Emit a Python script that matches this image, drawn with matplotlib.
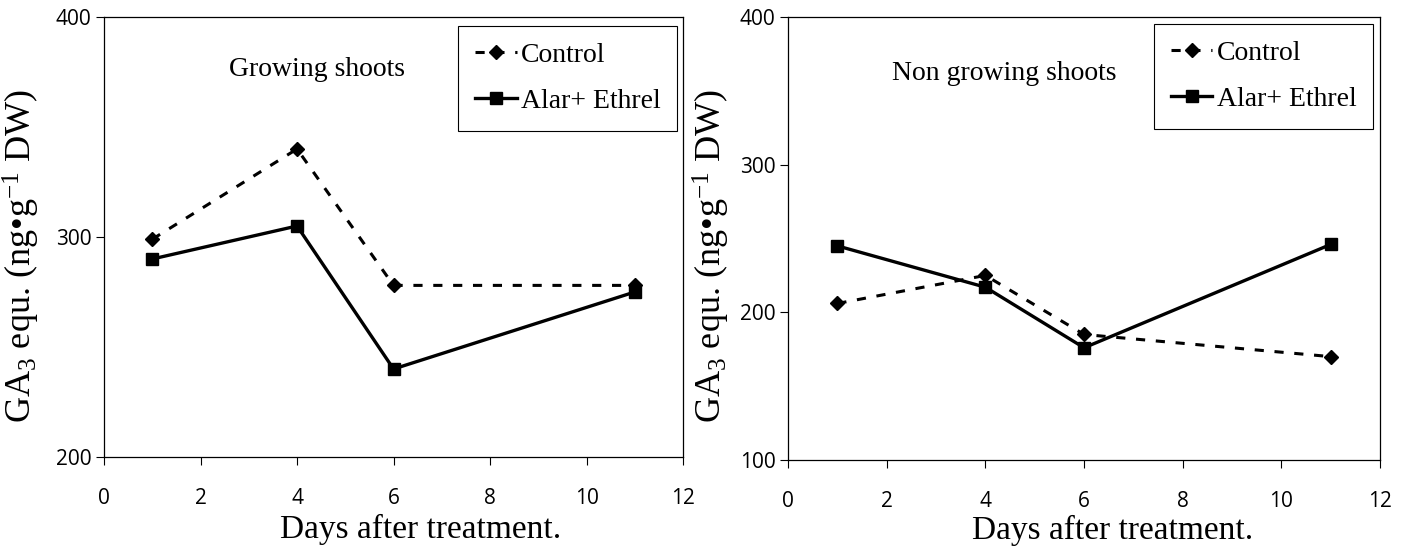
import matplotlib
matplotlib.use("Agg")
import matplotlib.pyplot as plt

plt.rcParams['mathtext.fontset'] = 'custom'
plt.rcParams['mathtext.rm'] = 'Liberation Serif'
plt.rcParams['mathtext.it'] = 'Liberation Serif:italic'

days = [1, 4, 6, 11]

# growing shoots
grow_control = [299, 340, 278, 278]
grow_alar = [290, 305, 240, 275]

# non growing shoots
nongrow_control = [206, 225, 185, 170]
nongrow_alar = [245, 217, 176, 246]

fig = plt.figure(figsize=(14.08, 5.53), dpi=100)
ax1 = fig.add_axes([0.0739, 0.1736, 0.4112, 0.7957])
ax2 = fig.add_axes([0.5597, 0.1682, 0.4205, 0.801])

serif = 'Liberation Serif'
ylab = 'GA$_3$ equ. (ng•g$^{-1}$ DW)'


def draw(ax, ctrl, alar, ylim, yticks, title, tpos, legpos, xlpos, ylpos):
    ax.plot(days, ctrl, color='black', ls=(0, (3, 3.5)), lw=2.2, marker='D',
            markersize=7, label='Control')
    ax.plot(days, alar, color='black', ls='-', lw=2.4, marker='s',
            markersize=9, label='Alar+ Ethrel')
    ax.set_xlim(0, 12)
    ax.set_ylim(*ylim)
    ax.set_xticks(range(0, 13, 2))
    ax.set_yticks(yticks)
    ax.tick_params(direction='out', length=6, labelsize=15)
    ax.tick_params(axis='x', pad=16)
    ax.tick_params(axis='y', pad=3)
    for lab in ax.get_xticklabels() + ax.get_yticklabels():
        lab.set_fontfamily('Open Sans')
    ax.set_xlabel('Days after treatment.', fontfamily=serif, fontsize=24)
    ax.set_ylabel(ylab, fontfamily=serif, fontsize=26)
    ax.xaxis.set_label_coords(*xlpos)
    ax.yaxis.set_label_coords(*ylpos)
    ax.text(tpos[0], tpos[1], title, transform=ax.transAxes, ha='center', va='center',
            fontfamily=serif, fontsize=20)
    leg = ax.legend(loc='upper right', bbox_to_anchor=legpos, fancybox=False,
                    edgecolor='black', framealpha=1, handlelength=1.5,
                    labelspacing=0.75, borderpad=0.6, handletextpad=0.15,
                    borderaxespad=0, prop={'family': serif, 'size': 20})
    leg.get_frame().set_linewidth(0.8)
    for s in ax.spines.values():
        s.set_linewidth(0.9)


draw(ax1, grow_control, grow_alar, (200, 400), [200, 300, 400], 'Growing shoots',
     (0.368, 0.88), (0.99, 0.98), (0.547, -0.13), (-0.107, 0.457))
draw(ax2, nongrow_control, nongrow_alar, (100, 400), [100, 200, 300, 400],
     'Non growing shoots', (0.365, 0.873), (0.988, 0.985), (0.549, -0.124), (-0.095, 0.46))

fig.savefig('out.png', dpi=100)
